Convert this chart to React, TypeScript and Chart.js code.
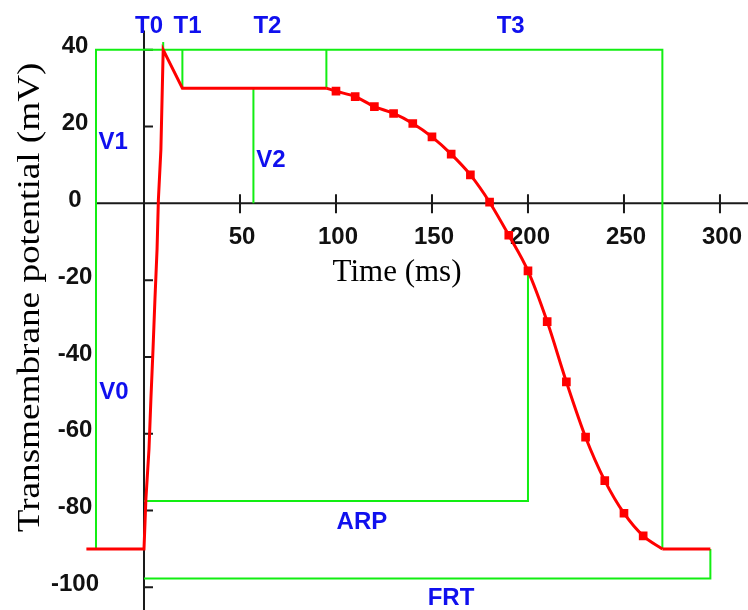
import React, { useEffect, useRef } from 'react';
import { Chart, registerables } from 'chart.js';

Chart.register(...registerables);

// ---- Action potential data (time in ms, potential in mV) ----
const UPSTROKE_T = [-30, 0, 1, 2.6, 3.6, 4.7, 5.7, 6.8, 7.5, 8.8, 9.4, 10, 20, 95];
const UPSTROKE_V = [-90, -90, -77, -64, -51, -38, -25, -12, 1, 14, 27, 40, 30, 30];

const REPOL_T = [95, 100, 110, 120, 130, 140, 150, 160, 170, 180, 190, 200, 210, 220, 230, 240, 250, 260, 270];
const REPOL_V = [30, 29.2, 27.8, 25.2, 23.4, 20.8, 17.3, 12.8, 7.4, 0.3, -8.3, -17.6, -30.8, -46.5, -60.9, -72.2, -80.7, -86.6, -90];

const REST_T = [270, 295];
const REST_V = [-90, -90];

// ---- Phase markers / reference values ----
const T0 = 10;
const T1 = 20;
const T2 = 95;
const T3 = 270;
const V0_X = -25;
const V2_X = 57;
const PEAK = 40;
const T0_TOP = 42;
const PLATEAU = 30;
const REST = -90;
const ARP_END = 200;
const ARP_LEVEL = -77.5;
const FRT_END = 295;
const FRT_LEVEL = -97.7;

// ---- Axes ----
const X_MIN = -75;
const X_MAX = 314.6;
const Y_MIN = -105.9;
const Y_MAX = 52.95;
const X_AXIS_START = -25;
const Y_AXIS_TOP = 45;
const X_TICKS = [50, 100, 150, 200, 250, 300];
const Y_TICKS = [40, 20, 0, -20, -40, -60, -80, -100];
const X_TITLE = 'Time (ms)';
const Y_TITLE = 'Transmembrane potential (mV)';

// ---- Annotation labels ----
const LABEL_TEXT = ['T0', 'T1', 'T2', 'T3', 'V1', 'V2', 'V0', 'ARP', 'FRT'];
const LABEL_X = [2.6, 22.7, 64.3, 191, -16.1, 66.1, -15.6, 113.5, 159.9];
const LABEL_Y = [46.2, 46.2, 46.2, 46.2, 16.0, 11.3, -49.1, -83.0, -102.8];

const RED = '#ff0000';
const GREEN = '#12ee12';
const BLUE = '#1010ee';
const AXIS = '#1a1a1a';
const SANS = '"Liberation Sans", Arial, sans-serif';
const SERIF = '"Liberation Serif", "Times New Roman", serif';

const zip = (xs: number[], ys: number[]) => xs.map((x, i) => ({ x, y: ys[i] }));
const valueAt = (t: number) => REPOL_V[REPOL_T.indexOf(t)];

const GUIDES: number[][][] = [
  [[V0_X, REST], [V0_X, PEAK], [T3, PEAK], [T3, REST]],
  [[T0, PEAK], [T0, T0_TOP]],
  [[T1, PEAK], [T1, PLATEAU]],
  [[T2, PEAK], [T2, PLATEAU]],
  [[V2_X, PLATEAU], [V2_X, 0]],
  [[0, ARP_LEVEL], [ARP_END, ARP_LEVEL], [ARP_END, valueAt(ARP_END)]],
  [[0, FRT_LEVEL], [FRT_END, FRT_LEVEL], [FRT_END, REST]],
];

const crossAxes = {
  id: 'crossAxes',
  beforeDatasetsDraw(chart: any) {
    const { ctx } = chart;
    const xs = chart.scales.x;
    const ys = chart.scales.y;
    const x0 = xs.getPixelForValue(0);
    const y0 = ys.getPixelForValue(0);
    ctx.save();
    ctx.strokeStyle = AXIS;
    ctx.lineWidth = 2;
    ctx.beginPath();
    ctx.moveTo(xs.getPixelForValue(X_AXIS_START), y0);
    ctx.lineTo(xs.right, y0);
    ctx.moveTo(x0, ys.getPixelForValue(Y_AXIS_TOP));
    ctx.lineTo(x0, ys.bottom);
    X_TICKS.forEach((t) => {
      const px = xs.getPixelForValue(t);
      ctx.moveTo(px, y0 - 9);
      ctx.lineTo(px, y0 + 10);
    });
    Y_TICKS.forEach((t) => {
      if (t === 0) return;
      const py = ys.getPixelForValue(t);
      ctx.moveTo(x0, py);
      ctx.lineTo(x0 + 9, py);
    });
    ctx.stroke();

    ctx.fillStyle = '#111';
    ctx.font = `bold 24px ${SANS}`;
    ctx.textAlign = 'center';
    ctx.textBaseline = 'middle';
    X_TICKS.forEach((t) => {
      ctx.fillText(String(t), xs.getPixelForValue(t) + 2, y0 + 34);
    });
    Y_TICKS.forEach((t) => {
      ctx.fillText(String(t), 75, ys.getPixelForValue(t) - 3);
    });

    ctx.fillStyle = '#000';
    ctx.font = `31px ${SERIF}`;
    ctx.fillText(X_TITLE, xs.getPixelForValue(131.8), ys.getPixelForValue(-18.2));
    ctx.save();
    ctx.translate(xs.getPixelForValue(-59), ys.getPixelForValue(-24.5));
    ctx.rotate(-Math.PI / 2);
    ctx.scale(1.2, 1);
    ctx.fillText(Y_TITLE, 0, 0);
    ctx.restore();
    ctx.restore();
  },
  afterDatasetsDraw(chart: any) {
    const { ctx } = chart;
    const xs = chart.scales.x;
    const ys = chart.scales.y;
    ctx.save();
    ctx.fillStyle = BLUE;
    ctx.font = `bold 24px ${SANS}`;
    ctx.textAlign = 'center';
    ctx.textBaseline = 'middle';
    LABEL_TEXT.forEach((txt, i) => {
      ctx.fillText(txt, xs.getPixelForValue(LABEL_X[i]), ys.getPixelForValue(LABEL_Y[i]));
    });
    ctx.restore();
  },
};

export default function App() {
  const ref = useRef<HTMLCanvasElement>(null);

  useEffect(() => {
    document.body.style.margin = '0';
    document.body.style.overflow = 'hidden';
    const canvas = ref.current;
    if (!canvas) return;

    const redLine = { showLine: true, borderColor: RED, backgroundColor: RED, borderWidth: 3, pointRadius: 0, tension: 0 };

    const datasets: any[] = [
      { ...redLine, data: zip(UPSTROKE_T, UPSTROKE_V) },
      {
        ...redLine,
        data: zip(REPOL_T, REPOL_V),
        cubicInterpolationMode: 'monotone',
        pointStyle: 'rect',
        pointRadius: (c: any) => (c.dataIndex > 0 && c.dataIndex < REPOL_T.length - 1 ? 4 : 0),
      },
      { ...redLine, data: zip(REST_T, REST_V) },
      ...GUIDES.map((g) => ({
        showLine: true,
        borderColor: GREEN,
        backgroundColor: GREEN,
        borderWidth: 2,
        pointRadius: 0,
        tension: 0,
        data: g.map(([x, y]) => ({ x, y })),
      })),
    ];

    const chart = new Chart(canvas, {
      type: 'scatter',
      data: { datasets },
      options: {
        animation: false,
        responsive: false,
        devicePixelRatio: 1,
        layout: { padding: 0 },
        plugins: { legend: { display: false }, tooltip: { enabled: false } },
        events: [],
        scales: {
          x: { type: 'linear', min: X_MIN, max: X_MAX, display: false },
          y: { type: 'linear', min: Y_MIN, max: Y_MAX, display: false },
        },
      },
      plugins: [crossAxes],
    });
    return () => chart.destroy();
  }, []);

  return (
    <div style={{ width: 748, height: 610, background: '#fff' }}>
      <canvas ref={ref} width={748} height={610} />
    </div>
  );
}
